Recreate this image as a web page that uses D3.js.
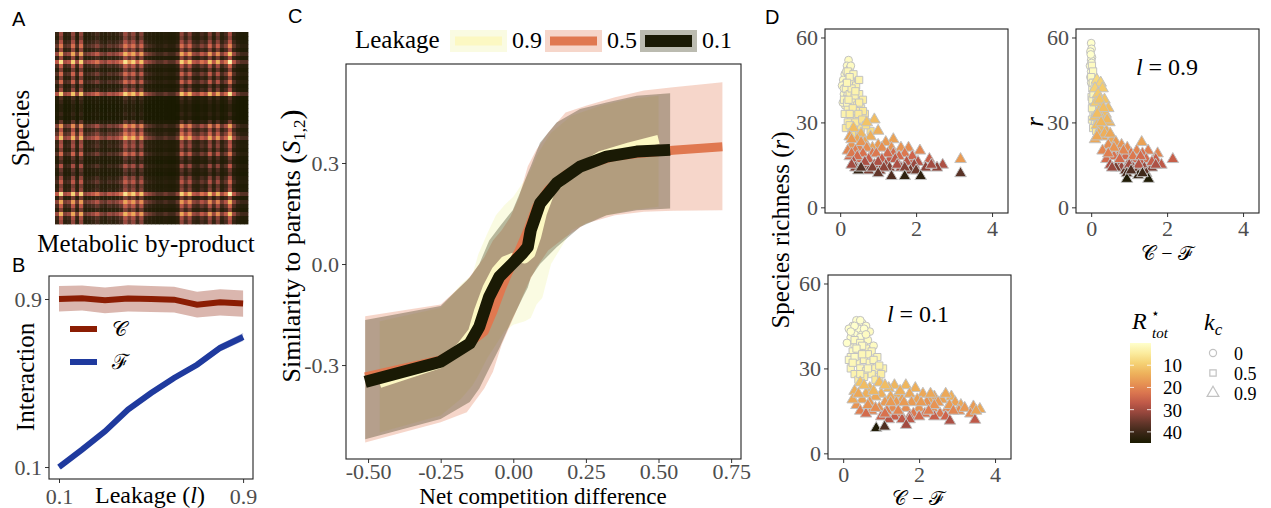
<!DOCTYPE html>
<html><head><meta charset="utf-8">
<script src="https://cdn.jsdelivr.net/npm/d3@7"></script>
<style>
body{margin:0;background:#fff}
svg text{font-family:"Liberation Serif","DejaVu Serif",serif}
.tick text{fill:#4d4d4d;font-size:22px}
.tick line{stroke:#333}
</style></head><body>
<svg id="fig" width="1271" height="508"></svg>
<script>
// --- A: Verbrauchsmatrix (Zeilen-/Spaltenintensität aus dem Bild gelesen)
const rowLevel=[.45,.4,.5,.65,.45,.85,.45,1,.55,.4,.6,.4,.6,.35,.45,.95,.3,.25,.2,.2,.25,.2,.35,.75,.5,.65,.9,.45,.5,.4,.6,.35,.3,.5,.35,.3,.45,.55,.4,.45,1,.4,.8,.55,.4,.85,.5,.45];
const colLevel=[.5,.95,.45,.5,.9,.45,.9,.4,.45,.5,.6,.45,.4,.5,.45,.5,.6,.95,.7,.9,.55,.85,.45,.4,.35,.3,.3,.35,.3,.3,.4,.9,.6,.85,.5,.45,.6,.5,.85,.5,.8,.45,.6,1,.5,.35,.3,.3];

// --- B: Interaktion vs Leakage
const leakB=[0.1,0.2,0.3,0.4,0.5,0.6,0.7,0.8,0.9];
const compMid=[0.900,0.903,0.894,0.902,0.900,0.897,0.873,0.884,0.878];
const compLo=[0.840,0.845,0.832,0.840,0.838,0.836,0.812,0.822,0.815];
const compHi=[0.962,0.964,0.955,0.965,0.962,0.958,0.935,0.946,0.940];
const facMid=[0.100,0.183,0.270,0.373,0.452,0.524,0.587,0.667,0.719];
const facLo=[0.092,0.175,0.261,0.362,0.441,0.512,0.573,0.650,0.700];
const facHi=[0.108,0.191,0.279,0.384,0.463,0.536,0.601,0.684,0.738];

// --- C: Ähnlichkeit zu Eltern vs Netto-Konkurrenz
const leakLevels=["0.9","0.5","0.1"];
const l09X=[-0.46,-0.25,-0.18,-0.14,-0.12,-0.09,-0.06,-0.03,0.0,0.04,0.06,0.08,0.1,0.13,0.2,0.3,0.4,0.5];
const l09Mid=[-0.355,-0.295,-0.245,-0.2,-0.14,-0.07,-0.02,0.01,0.02,0.015,0.03,0.08,0.15,0.22,0.27,0.322,0.348,0.37];
const l09Lo=[-0.5,-0.45,-0.4,-0.36,-0.33,-0.28,-0.24,-0.2,-0.18,-0.17,-0.16,-0.12,-0.1,0.0,0.1,0.14,0.16,0.17];
const l09Hi=[-0.17,-0.13,-0.06,-0.03,0.03,0.09,0.145,0.175,0.2,0.25,0.28,0.32,0.35,0.39,0.44,0.47,0.49,0.5];
const l05X=[-0.51,-0.25,-0.16,-0.1,-0.07,-0.04,-0.01,0.02,0.05,0.08,0.12,0.18,0.25,0.35,0.45,0.55,0.72];
const l05Mid=[-0.335,-0.285,-0.24,-0.2,-0.14,-0.07,-0.01,0.04,0.1,0.17,0.22,0.265,0.295,0.32,0.33,0.338,0.348];
const l05Lo=[-0.53,-0.47,-0.44,-0.37,-0.32,-0.24,-0.18,-0.12,-0.06,-0.01,0.04,0.08,0.12,0.145,0.155,0.158,0.16];
const l05Hi=[-0.155,-0.12,-0.05,0.02,0.07,0.1,0.14,0.2,0.29,0.34,0.39,0.45,0.47,0.495,0.515,0.525,0.54];
const l01X=[-0.51,-0.25,-0.15,-0.117,-0.083,-0.048,-0.002,0.032,0.05,0.06,0.092,0.149,0.23,0.321,0.425,0.54];
const l01Mid=[-0.35,-0.29,-0.236,-0.186,-0.097,-0.038,0.002,0.032,0.051,0.1,0.18,0.24,0.289,0.319,0.334,0.339];
const l01Lo=[-0.52,-0.46,-0.41,-0.37,-0.31,-0.25,-0.16,-0.1,-0.07,-0.04,0.0,0.05,0.11,0.145,0.16,0.165];
const l01Hi=[-0.166,-0.125,-0.04,0.0,0.07,0.11,0.16,0.23,0.27,0.29,0.36,0.42,0.46,0.48,0.5,0.507];

// --- D: Artenreichtum vs C-F, [x, r, R*tot]; Form = k_c
const d1Circ=[[0.22,52,1],[0.18,50,1],[0.25,49,1],[0.12,47,1],[0.3,47,2],[0.2,46,1],[0.08,45,1],[0.28,45,2],[0.15,44,1],[0.35,44,2],[0.05,43,1],[0.22,42,1],[0.3,41,2],[0.1,40,1],[0.18,39,2],[0.26,38,2],[0.13,36,2],[0.33,39,2],[0.07,37,1],[0.4,42,2],[0.16,48,1],[0.24,44,1],[0.1,42,1],[0.28,50,1],[0.2,40,2],[0.14,38,2]];
const d1Sq=[[0.2,48,2],[0.35,47,2],[0.28,44,3],[0.42,43,3],[0.15,42,2],[0.5,40,3],[0.25,40,3],[0.38,39,3],[0.1,38,2],[0.6,38,4],[0.3,37,3],[0.45,36,4],[0.2,35,3],[0.55,35,4],[0.35,34,4],[0.12,33,3],[0.65,33,5],[0.28,32,4],[0.45,31,5],[0.2,30,4],[0.38,29,5],[0.7,30,6],[0.15,28,5],[0.55,28,6],[0.3,27,6],[0.8,27,7],[0.42,34,4],[0.25,46,2],[0.5,45,3],[0.18,37,2],
 [0.3,42,3],[0.18,44,2],[0.4,41,3],[0.22,38,3],[0.5,37,4],[0.33,35,4],[0.6,34,5],[0.25,33,4],[0.48,33,5],[0.4,30,5],[0.58,31,6],[0.25,29,5],[0.68,29,7],[0.35,26,7],[0.5,26,8]];
const d1Tri=[[0.9,31,12],[0.7,30,11],[0.35,28,12],[0.55,26,13],[1.0,27,14],[0.25,25,16],[0.8,25,14],[1.4,24,16],[0.45,24,15],[1.2,23,17],[0.65,23,15],[1.0,22,17],[1.6,21,18],[0.3,22,18],[1.8,21,19],[2.1,20,20],[0.5,21,20],[0.85,21,16],[1.35,21,18],[0.2,20,20],
 [0.3,24,17],[0.55,23,18],[0.7,21,19],[1.1,21,19],[0.4,20,21],[0.85,19,22],[1.4,19,24],[1.7,19,22],[0.5,17,25],[1.3,17,27],[1.95,17,26],[0.25,18,24],
 [0.3,19,22],[0.6,19,23],[0.95,19,22],[1.25,19,24],[1.55,18,24],[1.9,18,25],[2.35,17,26],[0.45,18,24],[0.75,17,26],[1.1,17,26],[1.45,17,27],[1.75,16,28],[2.05,16,28],[2.7,15,29],[0.35,16,28],[0.6,15,30],[0.9,15,30],[1.2,15,30],[1.6,14,31],[1.95,15,31],[2.25,14,32],[2.55,14,32],[0.4,14,33],[0.75,13,34],[1.05,13,33],[1.3,14,33],[1.85,13,34],[3.17,17,17],
 [0.65,16,29],[1.0,16,29],[1.5,15,29],[2.4,15,30],[0.85,14,33],[1.15,14,32],[1.7,14,33],[2.0,13,35],[0.3,15,30],
 [0.48,13,41],[1.35,11,38],[1.7,11,42],[2.12,11,42],[3.17,12,37],[0.55,14,37],[1.0,12,36]];
const d2Circ=[[0,58,0],[0.01,56,0],[-0.02,55,0],[0.02,53,0],[0,52,0],[-0.03,50,0],[0.03,49,0],[0,48,0],[-0.02,46,0],[0.02,45,1],[0,44,1],[0.01,51,0],[-0.01,54,0],[0.04,47,1]];
const d2Sq=[[0.02,50,1],[0.05,48,1],[0,46,1],[0.07,44,2],[0.03,42,2],[0.08,40,2],[0.01,39,2],[0.1,37,3],[0.04,36,2],[0.12,34,3],[0.06,33,3],[0.02,31,3],[0.1,30,4],[0.15,29,4],[0.05,28,4],[0.08,35,3],[0.03,38,2],[0.12,41,2],
 [0.04,44,2],[0.09,42,2],[0.14,38,3],[0.06,40,2],[0.02,35,3],[0.1,32,4],[0.18,33,4],[0.13,27,5]];
const d2Tri=[[0.15,45,8],[0.25,44,9],[0.1,42,9],[0.3,42,10],[0.18,40,10],[0.35,38,11],[0.12,37,10],[0.28,36,11],[0.45,35,12],[0.2,34,11],[0.38,33,12],[0.1,32,11],[0.3,31,12],[0.48,30,13],[0.15,29,12],[0.25,28,13],[0.4,27,14],[0.2,26,14],[0.55,24,15],[0.3,25,15],[0.1,24,15],[1.33,23,16],
 [0.22,38,11],[0.32,35,12],[0.16,33,12],[0.42,31,13],[0.26,30,13],[0.35,26,14],[0.5,26,15],[0.15,25,15],
 [0.65,23,17],[0.8,22,18],[0.45,22,19],[0.95,21,19],[1.2,20,20],[1.5,20,21],[1.75,19,20],[0.55,20,21],[0.75,19,22],[1.05,19,22],[1.35,19,23],[0.3,20,20],[0.6,18,23],[0.9,18,24],[1.15,17,25],[1.45,17,24],[1.7,17,26],[2.15,17,26],[0.4,17,24],[0.7,16,27],[1.0,16,28],[1.3,16,27],[1.55,15,28],[1.85,15,27],[0.5,15,29],[0.8,14,31],[1.1,14,32],[1.4,14,31],[1.6,14,33],[0.65,14,34],[0.9,13,36],[1.2,13,35],[1.45,12,36],
 [0.6,21,18],[0.85,20,20],[1.1,18,22],[1.3,18,24],[0.45,19,21],[0.75,17,24],[1.6,16,26],[1.25,15,28],[0.55,14,31],[1.0,15,30],[1.7,15,29],
 [0.94,12,39],[1.24,11.3,41],[0.94,10,44],[1.51,10,44],[1.05,13,38],[1.35,12,40]];
const d3Circ=[[0.35,47,0],[0.5,46,0],[0.25,45,0],[0.6,45,0],[0.4,44,0],[0.15,44,0],[0.7,43,1],[0.3,42,0],[0.5,42,0],[0.2,41,0],[0.65,40,1],[0.4,40,0],[0.1,39,0],[0.55,38,1],[0.8,38,1],[0.3,38,1],
 [0.45,47,0],[0.3,45,0],[0.55,44,0],[0.2,43,0],[0.45,41,0],[0.6,42,1],[0.35,39,0]];
const d3Sq=[[0.3,40,1],[0.45,39,1],[0.6,37,2],[0.25,36,1],[0.75,36,2],[0.4,35,1],[0.9,34,2],[0.2,34,1],[0.55,33,2],[0.35,32,2],[0.7,32,2],[0.85,30,3],[1.05,30,3],[0.2,30,2],[0.45,30,2],[0.6,29,3],[0.3,28,3],[0.75,28,3],[0.95,27,4],[0.4,26,4],[0.15,33,1],[0.65,35,2],
 [0.5,38,1],[0.35,37,1],[0.8,33,2],[0.5,35,2],[0.3,34,1],[0.65,30,2],[0.95,31,3],[0.55,27,4],[0.25,32,2],[0.85,26,5],[1.0,28,4],[0.45,28,3]];
const d3Tri=[[0.45,25,11],[0.95,25,12],[1.35,24,13],[1.65,24,13],[0.7,23,13],[1.2,23,13],[1.9,23,14],[0.3,22,14],[0.6,21,14],[1.0,21,14],[1.45,21,14],[1.75,21,15],[2.1,21,15],[0.85,20,15],[1.25,20,15],[2.4,20,16],[2.85,20,14],[0.5,19,16],[1.55,19,16],[1.95,19,16],[2.25,19,16],[2.6,19,16],[1.1,18,17],[0.7,18,17],[1.4,18,17],[1.8,18,17],[2.2,18,18],[2.5,18,17],[2.95,18,16],[3.1,17,15],[3.43,16.5,17],[3.6,15.6,15],[0.35,17,18],[0.95,16,18],[1.3,16,19],[1.65,16,19],[2.0,16,18],[2.35,16,19],[2.75,16,20],[3.05,15,19],[0.45,15,21],[0.75,15,20],[1.15,15,21],[1.5,14,22],[1.85,14,22],[2.15,14,23],[2.55,14,22],[0.6,14,24],[1.0,13,25],[1.35,13,26],[1.75,13,25],[2.4,13,26],[1.2,12,28],[1.55,12,27],
 [0.25,19,15],[0.55,24,12],[0.8,22,13],[1.1,24,12],[1.5,22,14],[2.3,21,15],[2.7,21,15],[0.4,21,15],[0.65,17,18],[1.25,18,17],[1.6,18,17],[2.05,18,17],[2.4,17,18],[2.8,17,17],[3.2,16,17],[0.85,16,19],[1.45,15,20],[2.25,15,21],[2.9,15,20],[3.35,14,19],[1.1,14,23],[2.0,13,24],[2.7,13,25],[1.75,12,27],[3.5,15,16],
 [1.66,10,30],[2.81,11.5,29],[3.47,11.8,27],[0.87,8.9,44],[1.09,9.4,38]];
const rTicks=[10,20,30,40];
const kcLabels=["0","0.5","0.9"];

// lajolla-artige Palette: hellgelb -> orange -> rot -> fast schwarz
const lajolla=d3.interpolateRgbBasis(["#FFFFCC","#FBEC9A","#F4CC68","#ECA855","#E48751","#D2624D","#A54B42","#6D3A2F","#3A2618","#1A1A01"]);
const svg=d3.select("#fig");
svg.append("rect").attr("width",1271).attr("height",508).attr("fill","#fff");

function plab(x,y,t){svg.append("text").attr("x",x).attr("y",y).attr("font-size",20).style("font-family","Liberation Sans, Arial, sans-serif").text(t);}
function title(x,y,t,{rot=false,size=25,anchor="middle"}={}){
  return svg.append("text").attr("font-size",size).attr("text-anchor",anchor).attr("fill","#000")
    .attr("transform",`translate(${x},${y})${rot?" rotate(-90)":""}`).text(t);
}
function frame(x0,y0,w,h){svg.append("rect").attr("x",x0).attr("y",y0).attr("width",w).attr("height",h).attr("fill","none").attr("stroke","#222").attr("stroke-width",1.1);}
function axes(x,y,xt,yt,xf,yf,{xpad=5,ypad=3}={}){
  const [x0,x1]=x.range(), [y1,y0]=y.range();
  svg.append("g").attr("transform",`translate(0,${y1})`).call(d3.axisBottom(x).tickValues(xt).tickFormat(xf).tickSize(4).tickPadding(xpad)).call(g=>g.select(".domain").remove()).attr("font-size",null).attr("font-family",null);
  svg.append("g").attr("transform",`translate(${x0},0)`).call(d3.axisLeft(y).tickValues(yt).tickFormat(yf).tickSize(4).tickPadding(ypad)).call(g=>g.select(".domain").remove()).attr("font-size",null).attr("font-family",null);
  frame(x0,y0,x1-x0,y1-y0);
}

// ================= A
const xA=d3.scaleBand().domain(d3.range(colLevel.length)).range([55,248]);
const yA=d3.scaleBand().domain(d3.range(rowLevel.length)).range([32,224]);
const heatT=d3.scaleLinear().domain([0.08,0.2,0.45,0.9,1]).range([1,0.94,0.66,0.2,0.08]).clamp(true);
svg.append("g").selectAll("rect").data(d3.cross(d3.range(rowLevel.length),d3.range(colLevel.length))).join("rect")
  .attr("x",d=>xA(d[1])).attr("y",d=>yA(d[0])).attr("width",xA.bandwidth()+0.4).attr("height",yA.bandwidth()+0.4)
  .attr("fill",d=>lajolla(heatT(rowLevel[d[0]]*colLevel[d[1]])));
plab(12,26,"A");
title(29,128,"Species",{rot:true});
title(146,252,"Metabolic by-product");

// ================= B
const xB=d3.scaleLinear().domain([0.0565,0.943]).range([49,253]);
const yB=d3.scaleLinear().domain([0.043,1.0095]).range([479,276]);
const bSeries=[{mid:compMid,lo:compLo,hi:compHi,col:"#8b1d03"},{mid:facMid,lo:facLo,hi:facHi,col:"#1f3a9e"}];
bSeries.forEach(s=>{
  svg.append("path").attr("d",d3.area().x((d,i)=>xB(leakB[i])).y0((d,i)=>yB(s.lo[i])).y1((d,i)=>yB(s.hi[i]))(leakB)).attr("fill",s.col).attr("opacity",0.32);
  svg.append("path").attr("d",d3.line().x((d,i)=>xB(leakB[i])).y((d,i)=>yB(s.mid[i]))(leakB)).attr("fill","none").attr("stroke",s.col).attr("stroke-width",6);
});
axes(xB,yB,[0.1,0.9],[0.1,0.9],d3.format(".1f"),d3.format(".1f"),{xpad:5,ypad:3});
[["\u{1D49E}",329,"#8b1d03"],["\u2131",362,"#1f3a9e"]].forEach(([t,y,c])=>{
  svg.append("line").attr("x1",70).attr("x2",97).attr("y1",y).attr("y2",y).attr("stroke",c).attr("stroke-width",6);
  svg.append("text").attr("x",112).attr("y",y+7).attr("font-size",21).text(t);
});
plab(12,272,"B");
title(34,377,"Interaction",{rot:true});
const lk=title(150,503,"Leakage (",{size:24});
lk.append("tspan").attr("font-style","italic").text("l");lk.append("tspan").text(")");

// ================= C
const xC=d3.scaleLinear().domain([-0.576,0.784]).range([346,741]);
const yC=d3.scaleLinear().domain([-0.579,0.594]).range([459,64]);
const cSeries=[
  {key:"0.9",xs:l09X,mid:l09Mid,lo:l09Lo,hi:l09Hi,line:"#fcf8c2",band:"#eef3a0",bop:0.3,w:9},
  {key:"0.5",xs:l05X,mid:l05Mid,lo:l05Lo,hi:l05Hi,line:"#e07850",band:"#e07850",bop:0.3,w:9},
  {key:"0.1",xs:l01X,mid:l01Mid,lo:l01Lo,hi:l01Hi,line:"#1a1a05",band:"#2a2c08",bop:0.32,w:12}];
cSeries.forEach(s=>{
  svg.append("path").attr("d",d3.area().x((d,i)=>xC(s.xs[i])).y0((d,i)=>yC(s.lo[i])).y1((d,i)=>yC(s.hi[i]))(s.xs)).attr("fill",s.band).attr("opacity",s.bop);
});
cSeries.forEach(s=>{
  svg.append("path").attr("d",d3.line().x((d,i)=>xC(s.xs[i])).y((d,i)=>yC(s.mid[i]))(s.xs)).attr("fill","none").attr("stroke",s.line).attr("stroke-width",s.w).attr("stroke-linejoin","round");
});
axes(xC,yC,[-0.5,-0.25,0,0.25,0.5,0.75],[-0.3,0,0.3],d=>d.toFixed(2),d=>d.toFixed(1),{xpad:0,ypad:3});
plab(288,23,"C");
title(355,48,"Leakage",{anchor:"start"});
cSeries.forEach((s,k)=>{
  const bx=450+k*95;
  svg.append("rect").attr("x",bx).attr("y",30).attr("width",57).attr("height",22).attr("fill",s.band).attr("opacity",s.bop);
  svg.append("line").attr("x1",bx+5).attr("x2",bx+52).attr("y1",41).attr("y2",41).attr("stroke",s.line).attr("stroke-width",s.w);
  svg.append("text").attr("x",bx+62).attr("y",48).attr("font-size",24).text(leakLevels[k]);
});
const ct=title(300,246,"Similarity to parents ",{rot:true,size:26});
ct.append("tspan").attr("font-size",30).attr("dy",1).text("(");
ct.append("tspan").attr("font-style","italic").attr("dy",-1).text("S");
ct.append("tspan").attr("font-size",17).attr("dy",5).text("1,2");
ct.append("tspan").attr("font-size",30).attr("dy",-4).text(")");
title(543,504,"Net competition difference",{size:23});

// ================= D
const colR=d3.scaleSequential(lajolla).domain([0,45]);
const symC=d3.symbol(d3.symbolCircle,48)(), symS=d3.symbol(d3.symbolSquare,52)(), symT=d3.symbol(d3.symbolTriangle,58)();
function scatter(x0,y0,circ,sq,tri){
  const x=d3.scaleLinear().domain([-0.4,4.42]).range([x0,x0+183]);
  const y=d3.scaleLinear().domain([-2,63]).range([y0+184,y0]);
  [[circ,symC],[sq,symS],[tri,symT]].forEach(([data,sym])=>{
    svg.append("g").selectAll("path").data(data).join("path").attr("d",sym)
      .attr("transform",d=>`translate(${x(d[0])},${y(d[1])})`)
      .attr("fill",d=>colR(d[2])).attr("stroke","#c2c2c2").attr("stroke-width",1);
  });
  axes(x,y,[0,2,4],[0,30,60],d3.format("d"),d3.format("d"),{xpad:3,ypad:3});
}
scatter(825,29,d1Circ,d1Sq,d1Tri);
scatter(1076,29,d2Circ,d2Sq,d2Tri);
scatter(828,275,d3Circ,d3Sq,d3Tri);
plab(765,24,"D");
const sr=title(789,230,"Species richness (",{rot:true});
sr.append("tspan").attr("font-style","italic").text("r");sr.append("tspan").text(")");
title(1043,122,"r",{rot:true}).attr("font-style","italic");
function lEq(x,y,v){const t=title(x,y,"",{size:24});t.append("tspan").attr("font-style","italic").text("l");t.append("tspan").text(" = "+v);}
lEq(1167,75,"0.9");
lEq(918,322,"0.1");
title(1167,260,"\u{1D49E} \u2212 \u2131",{size:20});
title(918,505,"\u{1D49E} \u2212 \u2131",{size:20});

// Farbskala R*tot
const yCB=d3.scaleLinear().domain([0,45]).range([343,443]);
const grad=svg.append("defs").append("linearGradient").attr("id","cb").attr("x1",0).attr("x2",0).attr("y1",0).attr("y2",1);
d3.range(0,1.001,0.1).forEach(t=>grad.append("stop").attr("offset",t).attr("stop-color",lajolla(t)));
svg.append("rect").attr("x",1130).attr("y",343).attr("width",21).attr("height",100).attr("fill","url(#cb)");
rTicks.forEach(v=>{
  [[1130,1134],[1147,1151]].forEach(([a,b])=>svg.append("line").attr("x1",a).attr("x2",b).attr("y1",yCB(v)).attr("y2",yCB(v)).attr("stroke","#fff").attr("stroke-opacity",0.8));
  svg.append("text").attr("x",1163).attr("y",yCB(v)+7).attr("font-size",19).text(v);
});
svg.append("text").attr("x",1132).attr("y",329).attr("font-size",24).attr("font-style","italic").text("R");
svg.append("text").attr("x",1151).attr("y",318).attr("font-size",14).text("\u22C6");
svg.append("text").attr("x",1152).attr("y",338).attr("font-size",15).attr("font-style","italic").text("tot");
const kt=title(1204,330,"",{anchor:"start",size:24});
kt.append("tspan").attr("font-style","italic").text("k");
kt.append("tspan").attr("font-size",17).attr("font-style","italic").attr("dy",5).text("c");
[d3.symbolCircle,d3.symbolSquare,d3.symbolTriangle].forEach((s,k)=>{
  const yy=353+k*20;
  svg.append("path").attr("d",d3.symbol(s,k==2?60:40)()).attr("transform",`translate(1213,${yy})`).attr("fill","none").attr("stroke","#c2c2c2").attr("stroke-width",1.2);
  svg.append("text").attr("x",1234).attr("y",yy+7).attr("font-size",18).text(kcLabels[k]);
});
</script></body></html>
